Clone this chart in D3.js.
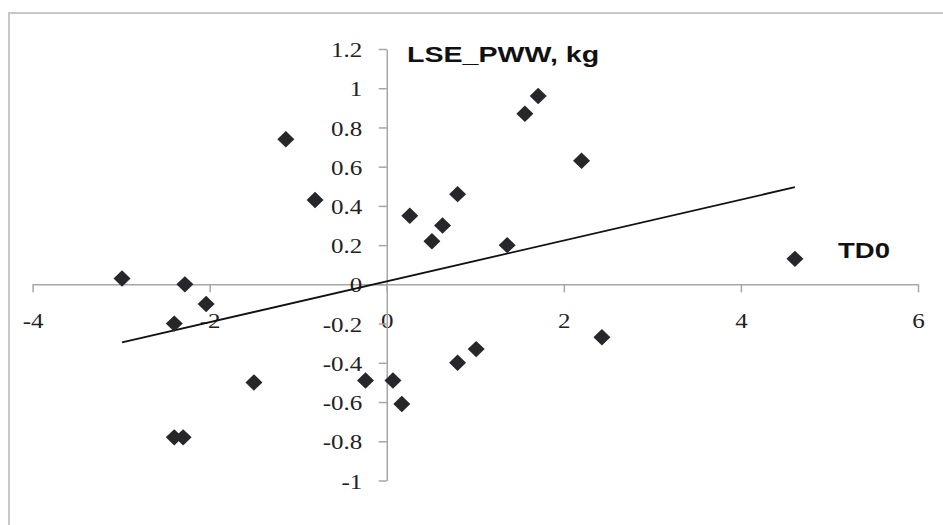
<!DOCTYPE html>
<html>
<head>
<meta charset="utf-8">
<script src="https://cdn.jsdelivr.net/npm/d3@7"></script>
<style>
  html, body { margin: 0; padding: 0; background: #fff; }
  svg { display: block; }
</style>
</head>
<body>
<svg id="chart" width="943" height="525"></svg>
<script>
// TD0 (x) vs LSE_PWW, kg (y)
const td0 = [-2.99, -2.28, -2.04, -2.40, -2.40, -2.30, -1.50, -1.14, -0.81, -0.24, 0.07, 0.17,
             0.26, 0.51, 0.63, 0.80, 0.80, 1.01, 1.36, 1.56, 1.71, 2.20, 2.43, 4.61];
const lsePww = [0.03, 0.00, -0.10, -0.20, -0.78, -0.78, -0.50, 0.74, 0.43, -0.49, -0.49, -0.61,
                0.35, 0.22, 0.30, 0.46, -0.40, -0.33, 0.20, 0.87, 0.96, 0.63, -0.27, 0.13];
const xTicks = [-4, -2, 0, 2, 4, 6];
const yTicks = [-1, -0.8, -0.6, -0.4, -0.2, 0, 0.2, 0.4, 0.6, 0.8, 1, 1.2];
const xTitle = 'TD0';
const yTitle = 'LSE_PWW, kg';

const svg = d3.select('#chart');
const sx = 1.25; // the picture's text is stretched sideways

// outer frame
svg.append('rect')
    .attr('x', 9).attr('y', 13)
    .attr('width', 960).attr('height', 540)
    .attr('fill', 'none')
    .attr('stroke', '#c8c8c8')
    .attr('stroke-width', 2);

const x = d3.scaleLinear().domain([-4, 6]).range([32.6, 918]);
const y = d3.scaleLinear().domain([-1, 1.2]).range([480.5, 49]);

const points = td0.map((v, i) => ({x: v, y: lsePww[i]}));

// least-squares trend line
const mx = d3.mean(td0), my = d3.mean(lsePww);
const slope = d3.sum(points, d => (d.x - mx) * (d.y - my)) / d3.sum(points, d => (d.x - mx) ** 2);
const icpt = my - slope * mx;
const [xmin, xmax] = d3.extent(td0);

// x axis at y = 0
const gx = svg.append('g')
    .attr('transform', `translate(0,${y(0)})`)
    .call(d3.axisBottom(x).tickValues(xTicks).tickSize(8).tickSizeOuter(0).tickFormat(d => String(d)));
gx.select('.domain').attr('stroke', '#a6a6a6').attr('stroke-width', 1.5);
gx.selectAll('.tick line').attr('stroke', '#a6a6a6').attr('stroke-width', 1.5);
gx.selectAll('.tick text')
    .attr('y', 29.5)
    .attr('fill', '#222')
    .style('font-family', '"Liberation Serif", serif')
    .style('font-size', '20px')
    .attr('transform', `scale(${sx},1)`);

// y axis at x = 0
const gy = svg.append('g')
    .attr('transform', `translate(${x(0)},0)`)
    .call(d3.axisLeft(y).tickValues(yTicks).tickSize(8).tickSizeOuter(0).tickFormat(d => String(d)));
gy.select('.domain').attr('stroke', '#a6a6a6').attr('stroke-width', 1.5);
gy.selectAll('.tick line').attr('stroke', '#a6a6a6').attr('stroke-width', 1.5);
gy.selectAll('.tick text')
    .attr('x', -24.5 / sx)
    .attr('dy', '0.38em')
    .attr('fill', '#222')
    .style('font-family', '"Liberation Serif", serif')
    .style('font-size', '20px')
    .attr('transform', `scale(${sx},1)`);

// trend line
svg.append('line')
    .attr('x1', x(xmin)).attr('y1', y(icpt + slope * xmin))
    .attr('x2', x(xmax)).attr('y2', y(icpt + slope * xmax))
    .attr('stroke', '#111')
    .attr('stroke-width', 1.8);

// diamond markers
const hw = 8.5, hh = 8.2;
svg.append('g').selectAll('path')
    .data(points)
    .enter()
    .append('path')
    .attr('transform', d => `translate(${x(d.x)},${y(d.y)})`)
    .attr('d', `M0,${-hh}L${hw},0L0,${hh}L${-hw},0Z`)
    .attr('fill', '#26262b');

// axis titles
svg.append('text')
    .attr('transform', `translate(407,62) scale(${sx + 0.05},1)`)
    .style('font-family', '"Liberation Sans", Arial, sans-serif')
    .style('font-weight', 'bold')
    .style('font-size', '22px')
    .attr('fill', '#111')
    .text(yTitle);

svg.append('text')
    .attr('transform', `translate(838,258) scale(${sx},1)`)
    .style('font-family', '"Liberation Sans", Arial, sans-serif')
    .style('font-weight', 'bold')
    .style('font-size', '22px')
    .attr('fill', '#111')
    .text(xTitle);
</script>
</body>
</html>
